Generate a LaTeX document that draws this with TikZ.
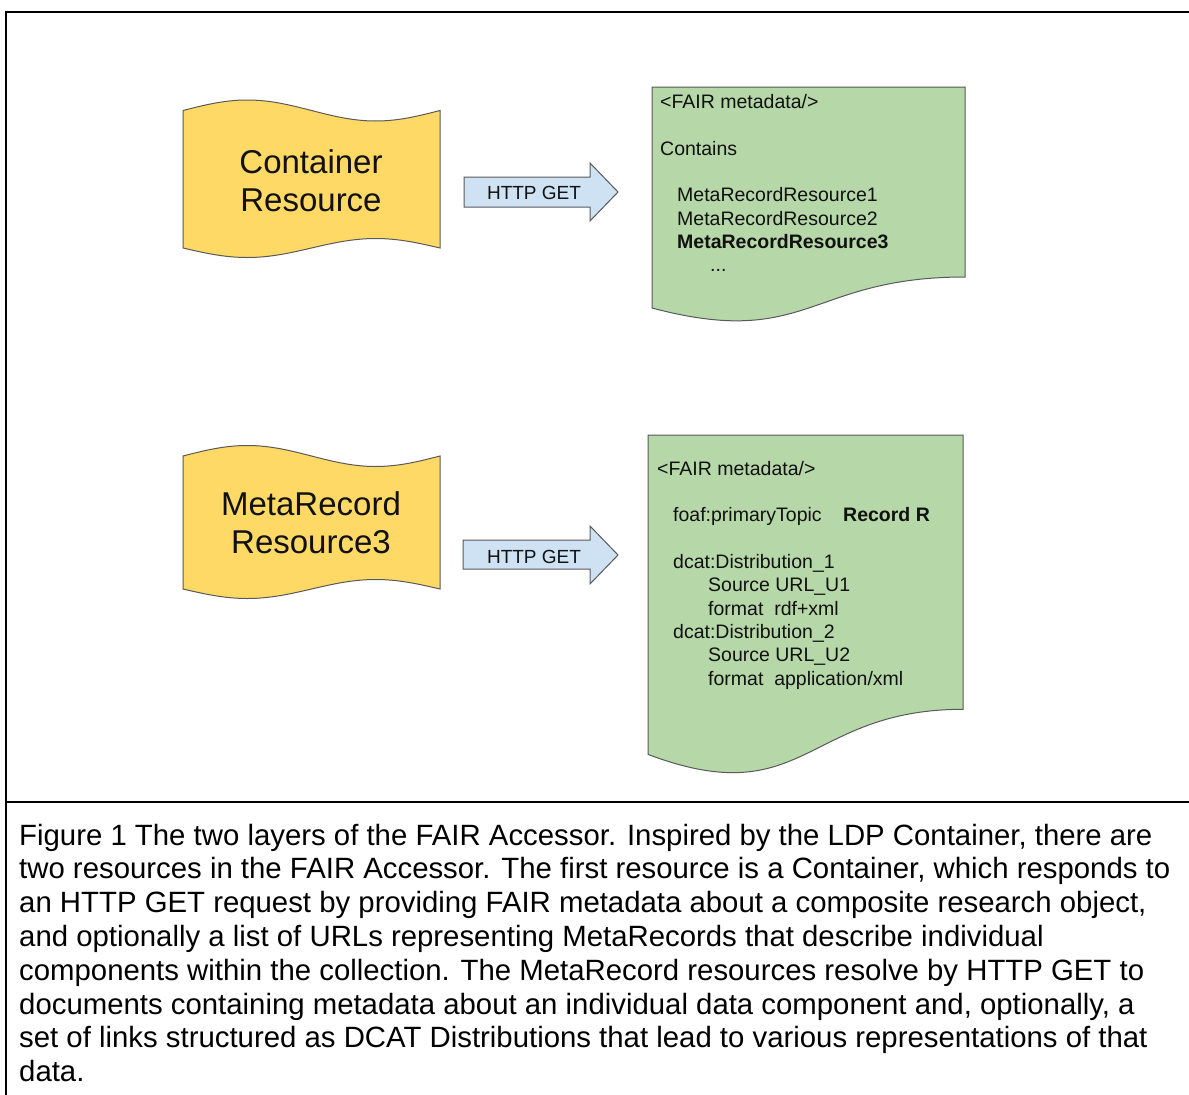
\documentclass[tikz,border=0pt]{standalone}
\usepackage{fontspec}
\setmainfont{Liberation Sans}
\definecolor{tapeyellow}{HTML}{FFD966}
\definecolor{docgreen}{HTML}{B6D7A8}
\definecolor{arrowblue}{HTML}{CFE2F3}
\definecolor{outlinegray}{HTML}{595959}
\definecolor{textdark}{HTML}{111111}
\begin{document}
\begin{tikzpicture}[x=1pt,y=1pt,
  tape/.style={fill=tapeyellow, draw=outlinegray, line width=1pt},
  docshape/.style={fill=docgreen, draw=outlinegray, line width=1pt},
  blockarrow/.style={fill=arrowblue, draw=outlinegray, line width=1pt},
  framerule/.style={line width=2.4pt, draw=black},
  bigtext/.style={font=\fontsize{33}{40}\selectfont, inner sep=0pt, anchor=base, text=textdark},
  arrowtext/.style={font=\fontsize{19}{23}\selectfont, inner sep=0pt, anchor=base, text=textdark},
  doctext/.style={font=\fontsize{19.5}{23}\selectfont, inner sep=0pt, anchor=base west, text=textdark},
  captext/.style={font=\fontsize{29.35}{34}\selectfont, inner sep=0pt, anchor=base west, text=black}]
\useasboundingbox (0,0) rectangle (1189,-1095);
\fill[white] (0,0) rectangle (1189,-1095);

% frame
\draw[framerule] (6,-1095) -- (6,-12) -- (1189,-12);
\draw[framerule] (6,-802) -- (1189,-802);

% yellow tape 1
\draw[tape] (183,-110.5) sin (247.25,-100) cos (311.5,-110.5) sin (375.75,-121) cos (440,-110.5)
  -- (440,-248) sin (375.75,-238.5) cos (311.5,-248) sin (247.25,-257.5) cos (183,-248) -- cycle;
\node[bigtext] (cont1) at (311,-173.3) {Container};
\node[bigtext] (cont2) at (311,-211.7) {Resource};

% yellow tape 2
\draw[tape] (183,-456) sin (247.25,-445.5) cos (311.5,-456) sin (375.75,-466.5) cos (440,-456)
  -- (440,-589) sin (375.75,-579.5) cos (311.5,-589) sin (247.25,-598.5) cos (183,-589) -- cycle;
\node[bigtext] (meta1) at (311,-515) {MetaRecord};
\node[bigtext] (meta2) at (311,-553.3) {Resource3};

% block arrows
\draw[blockarrow] (464,-177) -- (590,-177) -- (590,-163) -- (618,-192) -- (590,-221) -- (590,-207) -- (464,-207) -- cycle;
\node[arrowtext] (get1) at (534,-199.3) {HTTP GET};
\draw[blockarrow] (463,-540) -- (590,-540) -- (590,-526) -- (618,-555) -- (590,-584) -- (590,-569) -- (463,-569) -- cycle;
\node[arrowtext] (get2) at (534,-563.3) {HTTP GET};

% green document 1
\draw[docshape] (652,-87) -- (965,-87) -- (965,-277)
  .. controls (808.5,-277) and (808.5,-349.5) .. (652,-308) -- cycle;
\node[doctext] (d1a) at (660,-108.3) {<FAIR metadata/>};
\node[doctext] (d1b) at (660,-155) {Contains};
\node[doctext] (d1c) at (677,-201.7) {MetaRecordResource1};
\node[doctext] (d1d) at (677,-225) {MetaRecordResource2};
\node[doctext] (d1e) at (677,-248.3) {\bfseries MetaRecordResource3};
\node[doctext] (d1f) at (710,-271.7) {...};

% green document 2
\draw[docshape] (648,-435) -- (963,-435) -- (963,-709.3)
  .. controls (805.5,-709.3) and (805.5,-813.8) .. (648,-754.4) -- cycle;
\node[doctext] (d2a) at (657,-475) {<FAIR metadata/>};
\node[doctext] (d2b) at (673,-521.7) {foaf:primaryTopic};
\node[doctext] (d2c) at (843,-521.7) {\bfseries Record R};
\node[doctext] (d2d) at (673,-568.3) {dcat:Distribution\_1};
\node[doctext] (d2e) at (708,-591.7) {Source URL\_U1};
\node[doctext] (d2f) at (708,-615) {format\ \ rdf+xml};
\node[doctext] (d2g) at (673,-638.3) {dcat:Distribution\_2};
\node[doctext] (d2h) at (708,-661.7) {Source URL\_U2};
\node[doctext] (d2i) at (708,-685) {format\ \ application/xml};

% caption
\node[captext] (cap1) at (19,-845) {Figure 1 The two layers of the FAIR Accessor. Inspired by the LDP Container, there are};
\node[captext] (cap2) at (19,-878.8) {two resources in the FAIR Accessor. The first resource is a Container, which responds to};
\node[captext] (cap3) at (19,-912.6) {an HTTP GET request by providing FAIR metadata about a composite research object,};
\node[captext] (cap4) at (19,-946.4) {and optionally a list of URLs representing MetaRecords that describe individual};
\node[captext] (cap5) at (19,-980.2) {components within the collection. The MetaRecord resources resolve by HTTP GET to};
\node[captext] (cap6) at (19,-1014) {documents containing metadata about an individual data component and, optionally, a};
\node[captext] (cap7) at (19,-1047.8) {set of links structured as DCAT Distributions that lead to various representations of that};
\node[captext] (cap8) at (19,-1081.6) {data.};
\end{tikzpicture}
\end{document}
